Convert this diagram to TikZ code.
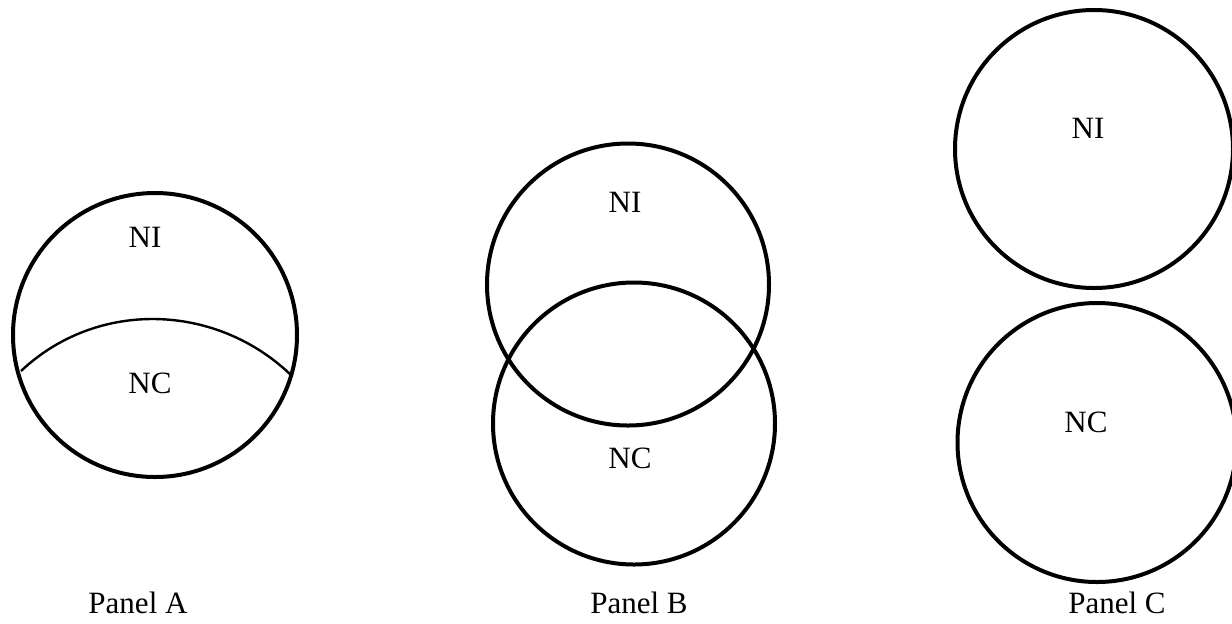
\documentclass[tikz,border=0pt]{standalone}
\usepackage{fontspec}
\setmainfont{Liberation Serif}
\begin{document}
\begin{tikzpicture}[x=0.5pt,y=-0.5pt,
  setcircle/.style={draw=black,line width=2pt,circle,inner sep=0pt,minimum size=#1},
  divider/.style={draw=black,line width=1.2pt},
  lbl/.style={font=\fontsize{15.5}{18}\selectfont,inner sep=0pt,anchor=center}]
\useasboundingbox (0,0) rectangle (1232,623);
\clip (0,0) rectangle (1232,623);

% Panel A: one set split by an arc (diameters in pt, half the pixel size)
\node[setcircle=142pt] (a) at (155,335) {};
\coordinate (a1) at (21,371);
\coordinate (a2) at (292,376);
\draw[divider] (a1) .. controls (97.4,299) and (216.9,302.8) .. (a2);
\node[lbl] (aNI) at (145,237) {NI};
\node[lbl] (aNC) at (150,383) {NC};
\node[lbl] (aT) at (138,603) {Panel A};

% Panel B: two overlapping sets
\node[setcircle=141pt] (b1) at (628,284.5) {};
\node[setcircle=141pt] (b2) at (634,423.5) {};
\node[lbl] (bNI) at (625,202) {NI};
\node[lbl] (bNC) at (630,458) {NC};
\node[lbl] (bT) at (639,603) {Panel B};

% Panel C: two disjoint sets
\node[setcircle=139pt] (c1) at (1094,149) {};
\node[setcircle=139.5pt] (c2) at (1097,442.5) {};
\node[lbl] (cNI) at (1088,128) {NI};
\node[lbl] (cNC) at (1086,422) {NC};
\node[lbl] (cT) at (1117,603) {Panel C};
\end{tikzpicture}
\end{document}
